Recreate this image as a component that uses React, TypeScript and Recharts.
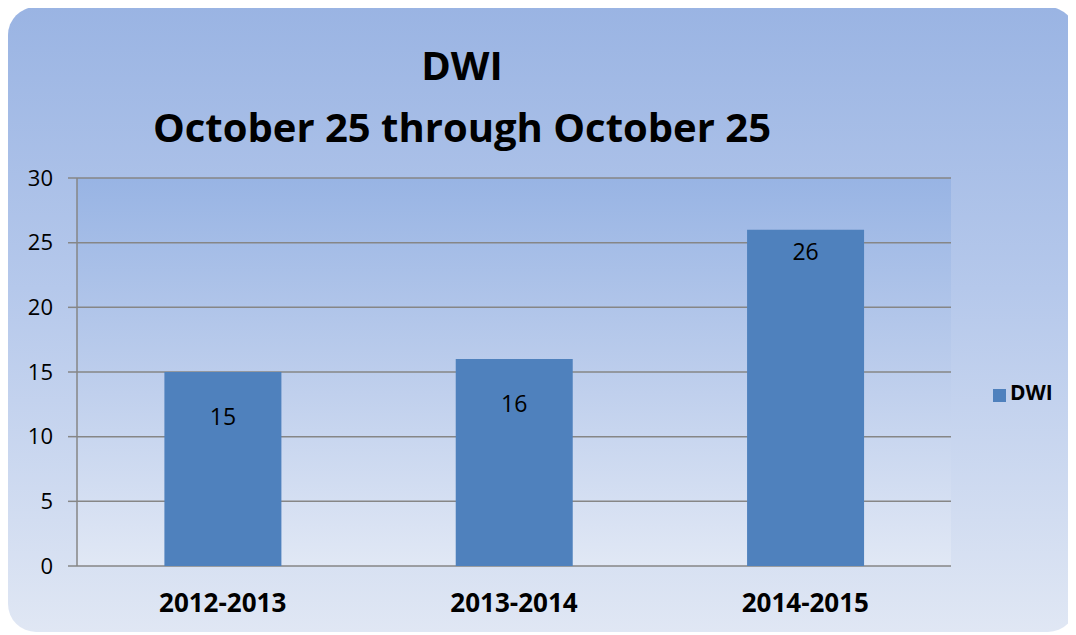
import React from "react";
import { BarChart, Bar, XAxis, YAxis, CartesianGrid, Legend, LabelList } from "recharts";

const categories = ["2012-2013", "2013-2014", "2014-2015"];
const dwiValues = [15, 16, 26];
const yTicks = [0, 5, 10, 15, 20, 25, 30];
const boundaryTicks = [0, 1, 2, 3];
const titleLines = ["DWI", "October 25 through October 25"];
const seriesName = "DWI";

const data = categories.map((c, i) => ({ category: c, DWI: dwiValues[i] }));

const FONT = "'Open Sans', Lato, 'DejaVu Sans', sans-serif";
const AXIS_COLOR = "#868686";

// baseline distance of each value label below its bar top (as placed in the reference)
const LABEL_BASELINE_GAP = [53, 53, 30];

const EmptyTick = () => <g />;

const ValueLabel = (props: any) => {
  const { x, y, width, value, index } = props;
  const gap = LABEL_BASELINE_GAP[index] ?? 30;
  return (
    <text
      x={Number(x) + Number(width) / 2}
      y={Number(y) + gap}
      textAnchor="middle"
      fill="#000"
      fontSize={23}
      fontFamily={FONT}
    >
      {value}
    </text>
  );
};

export default function App() {
  return (
    <div
      style={{
        position: "relative",
        width: 1068,
        height: 625,
        marginTop: -1,
        borderRadius: 28,
        background: "linear-gradient(to bottom, #9ab4e3 0%, #b5c8eb 45%, #e0e7f4 100%)",
        fontFamily: FONT,
        overflow: "hidden",
      }}
    >
      <div
        style={{
          position: "absolute",
          left: 0,
          width: 908,
          top: 27,
          textAlign: "center",
          fontWeight: 700,
          fontSize: 40,
          lineHeight: "62px",
          color: "#000",
        }}
      >
        {titleLines.map((t) => (
          <div key={t}>{t}</div>
        ))}
      </div>
      <BarChart
        width={1068}
        height={625}
        data={data}
        margin={{ top: 171, right: 125, bottom: 0, left: 0 }}
        barCategoryGap="30%"
        style={{ position: "absolute", left: 0, top: 0 }}
      >
        <defs>
          <linearGradient id="plotGrad" x1="0" y1="0" x2="0" y2="1">
            <stop offset="0%" stopColor="#98b4e4" />
            <stop offset="50%" stopColor="#bccdec" />
            <stop offset="100%" stopColor="#e1e8f5" />
          </linearGradient>
        </defs>
        <CartesianGrid
          vertical={false}
          stroke={AXIS_COLOR}
          strokeWidth={1.5}
          fill="url(#plotGrad)"
          fillOpacity={1}
        />
        <XAxis
          dataKey="category"
          height={66}
          tickLine={false}
          axisLine={false}
          tickMargin={22}
          tick={{ fill: "#000", fontSize: 26, fontWeight: 700, fontFamily: FONT }}
        />
        <XAxis
          xAxisId="bounds"
          type="number"
          domain={[0, 3]}
          ticks={boundaryTicks}
          height={0}
          tick={EmptyTick}
          tickSize={9}
          tickLine={{ stroke: AXIS_COLOR, strokeWidth: 1.5 }}
          axisLine={{ stroke: AXIS_COLOR, strokeWidth: 1.5 }}
        />
        <YAxis
          width={69}
          domain={[0, 30]}
          ticks={yTicks}
          tickSize={9}
          tickMargin={15}
          interval={0}
          tickLine={{ stroke: AXIS_COLOR, strokeWidth: 1.5 }}
          axisLine={{ stroke: AXIS_COLOR, strokeWidth: 1.5 }}
          tick={{ fill: "#000", fontSize: 22, fontFamily: FONT }}
        />
        <Legend
          layout="vertical"
          align="center"
          verticalAlign="middle"
          iconType="square"
          iconSize={13}
          wrapperStyle={{ left: 985, top: 371, width: 90 }}
          formatter={(v) => (
            <span style={{ color: "#000", fontWeight: 700, fontSize: 21, fontFamily: FONT }}>{v}</span>
          )}
        />
        <Bar dataKey="DWI" name={seriesName} fill="#4f81bd" isAnimationActive={false}>
          <LabelList dataKey="DWI" content={ValueLabel} />
        </Bar>
      </BarChart>
    </div>
  );
}
